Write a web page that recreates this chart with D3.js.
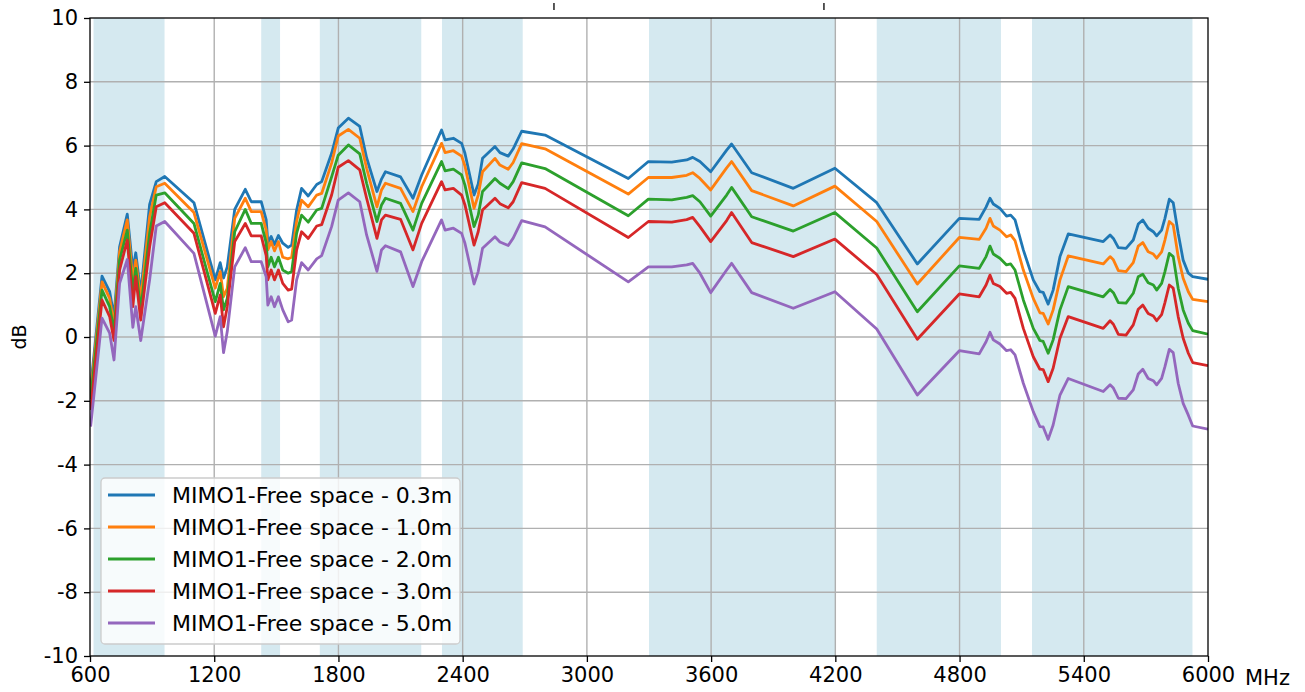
<!DOCTYPE html>
<html>
<head>
<meta charset="utf-8">
<script src="https://cdn.jsdelivr.net/npm/d3@7"></script>
<style>
  html, body { margin: 0; padding: 0; background: #fff; }
  svg { display: block; font-family: "DejaVu Sans", sans-serif; }
</style>
</head>
<body>
<svg id="chart" width="1305" height="692"></svg>
<script>
// ---------- data ----------
const freqs = [603, 658, 695, 716, 743, 780, 807, 821, 845, 888, 920, 961, 1102, 1205, 1229, 1245, 1263, 1299, 1350, 1379, 1427, 1451, 1459, 1475, 1491, 1510, 1531, 1557, 1574, 1598, 1622, 1654, 1695, 1719, 1767, 1799, 1848, 1903, 1936, 1986, 2008, 2027, 2100, 2160, 2202, 2298, 2315, 2355, 2395, 2411, 2455, 2475, 2496, 2556, 2580, 2620, 2644, 2685, 2798, 3200, 3297, 3410, 3482, 3511, 3546, 3598, 3675, 3699, 3796, 3997, 4198, 4400, 4596, 4799, 4895, 4928, 4947, 4963, 4995, 5027, 5047, 5068, 5108, 5156, 5188, 5204, 5228, 5252, 5285, 5325, 5494, 5527, 5543, 5567, 5604, 5639, 5663, 5685, 5711, 5736, 5752, 5776, 5792, 5813, 5832, 5856, 5880, 5905, 5926, 6000];

const s03 = [-1.61, 1.91, 1.42, 0.64, 2.83, 3.85, 2.10, 2.64, 1.37, 4.16, 4.87, 5.03, 4.21, 1.79, 2.33, 1.85, 2.20, 4.00, 4.63, 4.24, 4.24, 3.67, 2.95, 3.15, 2.90, 3.18, 2.94, 2.81, 2.88, 3.98, 4.66, 4.42, 4.78, 4.87, 5.76, 6.55, 6.86, 6.60, 5.62, 4.56, 4.95, 5.18, 5.02, 4.35, 5.08, 6.49, 6.18, 6.23, 6.07, 5.76, 4.45, 4.80, 5.60, 5.97, 5.78, 5.67, 5.90, 6.45, 6.33, 4.97, 5.50, 5.48, 5.55, 5.63, 5.50, 5.18, 5.86, 6.05, 5.15, 4.66, 5.29, 4.21, 2.29, 3.72, 3.69, 4.07, 4.35, 4.17, 4.03, 3.79, 3.82, 3.67, 2.73, 1.79, 1.42, 1.40, 1.03, 1.47, 2.52, 3.23, 2.99, 3.20, 3.09, 2.80, 2.78, 3.04, 3.54, 3.67, 3.41, 3.30, 3.17, 3.35, 3.72, 4.32, 4.21, 3.25, 2.41, 2.00, 1.89, 1.81];

const s10 = [-1.79, 1.73, 1.21, 0.38, 2.67, 3.67, 1.75, 2.41, 1.16, 3.77, 4.71, 4.82, 3.90, 1.53, 2.05, 1.26, 1.53, 3.72, 4.35, 3.93, 3.93, 3.35, 2.73, 2.99, 2.70, 2.99, 2.50, 2.45, 2.50, 3.62, 4.29, 4.08, 4.45, 4.50, 5.45, 6.30, 6.51, 6.23, 5.29, 4.08, 4.61, 4.82, 4.66, 3.93, 4.71, 6.07, 5.78, 5.84, 5.67, 5.36, 4.03, 4.45, 5.18, 5.60, 5.39, 5.26, 5.47, 6.06, 5.90, 4.48, 5.00, 5.00, 5.07, 5.15, 4.97, 4.61, 5.30, 5.50, 4.59, 4.11, 4.73, 3.62, 1.66, 3.12, 3.06, 3.41, 3.72, 3.48, 3.35, 3.14, 3.20, 3.02, 2.10, 1.21, 0.76, 0.74, 0.41, 0.85, 1.79, 2.54, 2.29, 2.52, 2.42, 2.08, 2.05, 2.33, 2.85, 2.96, 2.67, 2.60, 2.47, 2.67, 3.04, 3.62, 3.51, 2.52, 1.84, 1.42, 1.18, 1.11];

const s20 = [-1.95, 1.47, 0.95, 0.17, 2.41, 3.35, 1.40, 2.15, 0.85, 3.25, 4.45, 4.52, 3.56, 1.11, 1.68, 0.85, 1.21, 3.30, 4.00, 3.56, 3.56, 2.95, 2.20, 2.50, 2.20, 2.50, 2.10, 2.00, 2.05, 3.25, 3.82, 3.60, 3.98, 4.03, 5.02, 5.70, 6.02, 5.74, 4.82, 3.62, 4.14, 4.35, 4.19, 3.35, 4.19, 5.50, 5.21, 5.26, 5.08, 4.76, 3.46, 3.82, 4.56, 4.97, 4.82, 4.65, 4.87, 5.46, 5.28, 3.80, 4.32, 4.30, 4.38, 4.43, 4.24, 3.79, 4.45, 4.69, 3.77, 3.32, 3.90, 2.79, 0.79, 2.23, 2.15, 2.52, 2.85, 2.60, 2.47, 2.26, 2.29, 2.10, 1.16, 0.27, -0.11, -0.14, -0.51, -0.09, 0.85, 1.58, 1.26, 1.49, 1.39, 1.08, 1.06, 1.37, 1.89, 1.97, 1.70, 1.63, 1.47, 1.68, 2.05, 2.62, 2.52, 1.53, 0.85, 0.43, 0.20, 0.09];

const s30 = [-2.29, 1.16, 0.64, -0.11, 2.10, 3.04, 0.95, 1.89, 0.53, 2.83, 4.08, 4.21, 3.25, 0.74, 1.32, 0.32, 0.95, 2.99, 3.56, 3.17, 3.17, 2.55, 1.79, 2.10, 1.79, 2.10, 1.68, 1.47, 1.50, 2.73, 3.30, 3.09, 3.48, 3.52, 4.45, 5.32, 5.53, 5.24, 4.35, 3.09, 3.67, 3.82, 3.69, 2.73, 3.56, 4.87, 4.61, 4.66, 4.45, 4.14, 2.88, 3.30, 3.98, 4.35, 4.18, 4.05, 4.24, 4.84, 4.66, 3.12, 3.62, 3.60, 3.68, 3.75, 3.46, 2.99, 3.65, 3.90, 2.96, 2.52, 3.07, 1.96, -0.07, 1.35, 1.26, 1.63, 1.94, 1.68, 1.58, 1.37, 1.40, 1.21, 0.27, -0.62, -1.01, -1.02, -1.40, -0.98, -0.04, 0.64, 0.27, 0.51, 0.40, 0.08, 0.06, 0.38, 0.87, 1.00, 0.74, 0.66, 0.51, 0.70, 1.08, 1.63, 1.53, 0.64, -0.04, -0.51, -0.80, -0.90];

const s50 = [-2.81, 0.59, 0.12, -0.72, 1.68, 2.43, 0.30, 0.95, -0.11, 1.79, 3.48, 3.62, 2.62, 0.03, 0.64, -0.49, 0.17, 2.20, 2.80, 2.36, 2.36, 1.89, 1.00, 1.26, 0.95, 1.26, 0.85, 0.48, 0.53, 1.79, 2.33, 2.10, 2.45, 2.55, 3.46, 4.29, 4.52, 4.24, 3.20, 2.06, 2.73, 2.86, 2.67, 1.58, 2.36, 3.67, 3.35, 3.41, 3.25, 2.94, 1.66, 2.05, 2.78, 3.14, 2.98, 2.87, 3.10, 3.65, 3.45, 1.73, 2.20, 2.20, 2.26, 2.31, 2.00, 1.39, 2.10, 2.31, 1.39, 0.90, 1.42, 0.25, -1.82, -0.43, -0.53, -0.15, 0.15, -0.09, -0.22, -0.43, -0.40, -0.56, -1.45, -2.34, -2.81, -2.82, -3.21, -2.76, -1.82, -1.30, -1.71, -1.50, -1.60, -1.92, -1.93, -1.66, -1.16, -1.01, -1.30, -1.37, -1.50, -1.30, -0.93, -0.39, -0.49, -1.45, -2.08, -2.45, -2.79, -2.89];

const seriesNames = ["MIMO1-Free space - 0.3m", "MIMO1-Free space - 1.0m", "MIMO1-Free space - 2.0m", "MIMO1-Free space - 3.0m", "MIMO1-Free space - 5.0m"];
const seriesColors = ["#1f77b4", "#ff7f0e", "#2ca02c", "#d62728", "#9467bd"];

const bandStarts = [617, 1427, 1710, 2300, 3300, 4400, 5150];
const bandEnds   = [960, 1518, 2200, 2690, 4200, 5000, 5925];

const xTicks = [600, 1200, 1800, 2400, 3000, 3600, 4200, 4800, 5400, 6000];
const yTicks = [-10, -8, -6, -4, -2, 0, 2, 4, 6, 8, 10];
const topMarks = [2841, 4145];

// ---------- layout ----------
const svg = d3.select("#chart");
const L = 90, R = 1208, T = 18, B = 656;
const x = d3.scaleLinear().domain([600, 6000]).range([L, R]);
const y = d3.scaleLinear().domain([-10, 10]).range([B, T]);

svg.append("clipPath").attr("id", "clip")
  .append("rect").attr("x", L).attr("y", T).attr("width", R - L).attr("height", B - T);

// bands
svg.append("g").selectAll("rect").data(bandStarts).join("rect")
  .attr("x", (d) => x(d))
  .attr("y", T)
  .attr("width", (d, i) => x(bandEnds[i]) - x(d))
  .attr("height", B - T)
  .attr("fill", "#d5e9f0");

// grid
const grid = svg.append("g").attr("stroke", "#b0b0b0").attr("stroke-width", 1.4);
grid.selectAll("line.v").data(xTicks.slice(1, -1)).join("line").attr("class", "v")
  .attr("x1", (d) => x(d)).attr("x2", (d) => x(d)).attr("y1", T).attr("y2", B);
grid.selectAll("line.h").data(yTicks.slice(1, -1)).join("line").attr("class", "h")
  .attr("y1", (d) => y(d)).attr("y2", (d) => y(d)).attr("x1", L).attr("x2", R);

// lines
const allSeries = [s03, s10, s20, s30, s50];
const line = d3.line().x((d) => x(d[0])).y((d) => y(d[1]));
svg.append("g").attr("clip-path", "url(#clip)").selectAll("path").data(allSeries).join("path")
  .attr("d", (s) => line(freqs.map((f, i) => [f, s[i]])))
  .attr("fill", "none")
  .attr("stroke", (d, i) => seriesColors[i])
  .attr("stroke-width", 2.8)
  .attr("stroke-linejoin", "round");

// axes
const xAxis = d3.axisBottom(x).tickValues(xTicks).tickFormat(d3.format("d")).tickSizeOuter(0).tickSize(6).tickPadding(5);
const yAxis = d3.axisLeft(y).tickValues(yTicks).tickFormat((d) => d < 0 ? "-" + Math.abs(d) : d).tickSizeOuter(0).tickSize(6).tickPadding(6);

const gx = svg.append("g").attr("transform", `translate(0,${B})`).call(xAxis);
const gy = svg.append("g").attr("transform", `translate(${L},0)`).call(yAxis);
[gx, gy].forEach((g) => {
  g.selectAll("text").attr("font-size", 21).attr("font-family", "DejaVu Sans").attr("fill", "#000");
  g.selectAll("line").attr("stroke", "#000").attr("stroke-width", 1.3);
  g.select(".domain").remove();
});

// frame
svg.append("rect").attr("x", L).attr("y", T).attr("width", R - L).attr("height", B - T)
  .attr("fill", "none").attr("stroke", "#000").attr("stroke-width", 1.3);

// top marks
svg.append("g").selectAll("line").data(topMarks).join("line")
  .attr("x1", (d) => x(d)).attr("x2", (d) => x(d)).attr("y1", 3).attr("y2", 10)
  .attr("stroke", "#000").attr("stroke-width", 1.3);

// axis labels
svg.append("text").attr("x", 1245).attr("y", 685).attr("font-size", 21).text("MHz");
svg.append("text").attr("transform", "translate(26,337) rotate(-90)").attr("text-anchor", "middle")
  .attr("font-size", 19).text("dB");

// legend
const lg = svg.append("g");
lg.append("rect").attr("x", 101).attr("y", 478).attr("width", 359).attr("height", 166).attr("rx", 4)
  .attr("fill", "#ffffff").attr("fill-opacity", 0.8).attr("stroke", "#cccccc").attr("stroke-width", 1.3);
const items = lg.selectAll("g.item").data(seriesNames).join("g").attr("class", "item")
  .attr("transform", (d, i) => `translate(0,${495 + i * 32})`);
items.append("line").attr("x1", 108).attr("x2", 155).attr("y1", 0).attr("y2", 0)
  .attr("stroke", (d, i) => seriesColors[i]).attr("stroke-width", 2.8);
items.append("text").attr("x", 172).attr("y", 0).attr("dy", "0.35em").attr("font-size", 22).text((d) => d);
</script>
</body>
</html>
